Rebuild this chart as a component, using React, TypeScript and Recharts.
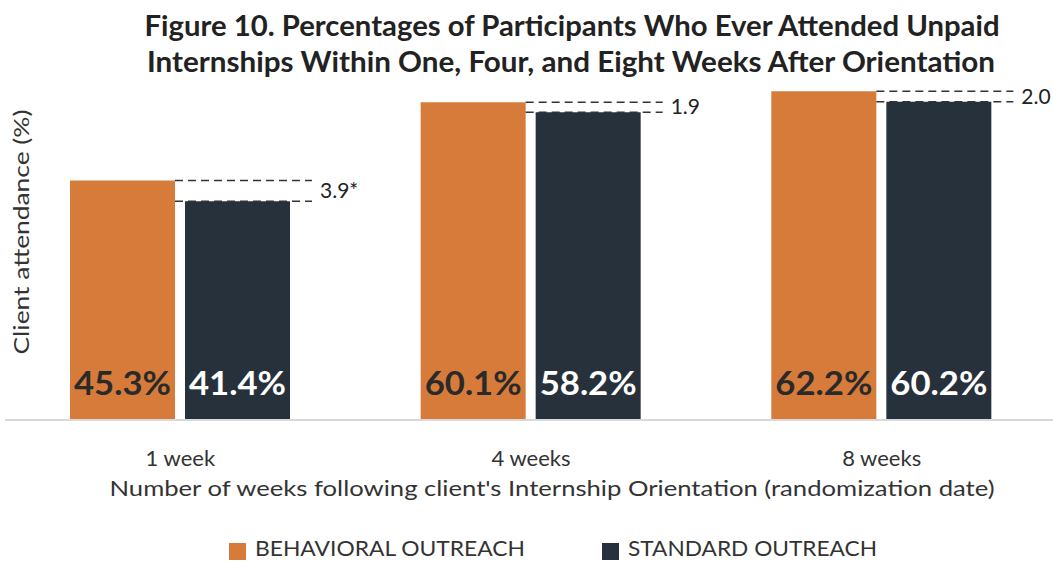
import React from "react";
import {
  BarChart,
  Bar,
  XAxis,
  YAxis,
  LabelList,
  Legend,
} from "recharts";

const categories = ["1 week", "4 weeks", "8 weeks"];
const behavioral = [45.3, 60.1, 62.2];
const standard = [41.4, 58.2, 60.2];
const differences = ["3.9*", "1.9", "2.0"];
const seriesNames = ["BEHAVIORAL OUTREACH", "STANDARD OUTREACH"];

const ORANGE = "#D67B3A";
const NAVY = "#27313C";
const FONT = "Lato, 'Noto Sans', sans-serif";

const data = categories.map((week, i) => ({
  week,
  behavioral: behavioral[i],
  standard: standard[i],
  diff: differences[i],
}));

// value printed near the bottom of each bar
const valueLabel = (color: string) => (props: any) => {
  const { x, y, width, height, value } = props;
  return (
    <text
      x={x + width / 2}
      y={y + height - 25}
      textAnchor="middle"
      fill={color}
      fontFamily={FONT}
      fontWeight={700}
      fontSize={32}
      textLength={97}
      lengthAdjust="spacingAndGlyphs"
    >
      {`${Number(value).toFixed(1)}%`}
    </text>
  );
};

// dashed guides showing the gap between the two bars + difference text
const diffLabel = (props: any) => {
  const { x, y, width, height, value, index } = props;
  const perUnit = height / value;
  const base = y + height;
  const topY = base - behavioral[index] * perUnit;
  const x1 = x - 10;
  const x2 = x + width + 22;
  return (
    <g>
      <line x1={x1} x2={x2} y1={topY} y2={topY} stroke="#333" strokeWidth={1.5} strokeDasharray="8 5" />
      <line x1={x1} x2={x2} y1={y} y2={y} stroke="#333" strokeWidth={1.5} strokeDasharray="8 5" />
      <text
        x={x2 + 8}
        y={(topY + y) / 2 + 7}
        fill="#222"
        fontFamily={FONT}
        fontSize={21}
      >
        {differences[index]}
      </text>
    </g>
  );
};

const renderTick = (props: any) => {
  const { x, payload } = props;
  return (
    <text x={x} y={466} textAnchor="middle" fill="#333" fontFamily={FONT} fontSize={22}>
      {payload.value}
    </text>
  );
};

const renderLegend = (props: any) => {
  const { payload } = props;
  const xs = [229, 602];
  const lens = [270, 249];
  return (
    <svg width={1053} height={40} style={{ display: "block" }}>
      {(payload || []).map((entry: any, i: number) => (
        <g key={i}>
          <rect x={xs[i]} y={22} width={17} height={17} fill={entry.color} />
          <text
            x={xs[i] + 26}
            y={35}
            fill="#333"
            fontFamily={FONT}
            fontSize={22}
            textLength={lens[i]}
            lengthAdjust="spacingAndGlyphs"
          >
            {seriesNames[i]}
          </text>
        </g>
      ))}
    </svg>
  );
};

export default function App() {
  return (
    <div
      style={{
        position: "absolute",
        left: 0,
        top: 0,
        width: 1053,
        height: 561,
        overflow: "hidden",
        background: "#fff",
      }}
    >
      <BarChart
        width={1057}
        height={561}
        data={data}
        margin={{ top: 50, right: 0, left: 5, bottom: 0 }}
        barSize={105}
        barGap={10}
      >
        <text
          x={572}
          y={36}
          textAnchor="middle"
          fill="#222"
          fontFamily={FONT}
          fontWeight={700}
          fontSize={28}
          textLength={855}
          lengthAdjust="spacingAndGlyphs"
        >
          Figure 10. Percentages of Participants Who Ever Attended Unpaid
        </text>
        <text
          x={571}
          y={72}
          textAnchor="middle"
          fill="#222"
          fontFamily={FONT}
          fontWeight={700}
          fontSize={28}
          textLength={848}
          lengthAdjust="spacingAndGlyphs"
        >
          Internships Within One, Four, and Eight Weeks After Orientation
        </text>
        <text
          x={29}
          y={232}
          transform="rotate(-90 29 232)"
          textAnchor="middle"
          fill="#333"
          fontFamily={FONT}
          fontSize={21}
          textLength={245}
          lengthAdjust="spacingAndGlyphs"
        >
          Client attendance (%)
        </text>
        <text
          x={552}
          y={496}
          textAnchor="middle"
          fill="#333"
          fontFamily={FONT}
          fontSize={21}
          textLength={885}
          lengthAdjust="spacingAndGlyphs"
        >
          Number of weeks following client's Internship Orientation (randomization date)
        </text>
        <XAxis
          dataKey="week"
          height={101}
          tickLine={false}
          axisLine={{ stroke: "#d9d9d9", strokeWidth: 2 }}
          tick={renderTick}
          interval={0}
        />
        <YAxis hide domain={[0, 70]} />
        <Legend
          verticalAlign="bottom"
          height={40}
          content={renderLegend}
          wrapperStyle={{ left: 0, bottom: 0, width: 1053 }}
        />
        <Bar dataKey="behavioral" name={seriesNames[0]} fill={ORANGE} isAnimationActive={false}>
          <LabelList dataKey="behavioral" content={valueLabel("#2a2a2a")} />
        </Bar>
        <Bar dataKey="standard" name={seriesNames[1]} fill={NAVY} isAnimationActive={false}>
          <LabelList dataKey="standard" content={diffLabel} />
          <LabelList dataKey="standard" content={valueLabel("#ffffff")} />
        </Bar>
      </BarChart>
    </div>
  );
}
